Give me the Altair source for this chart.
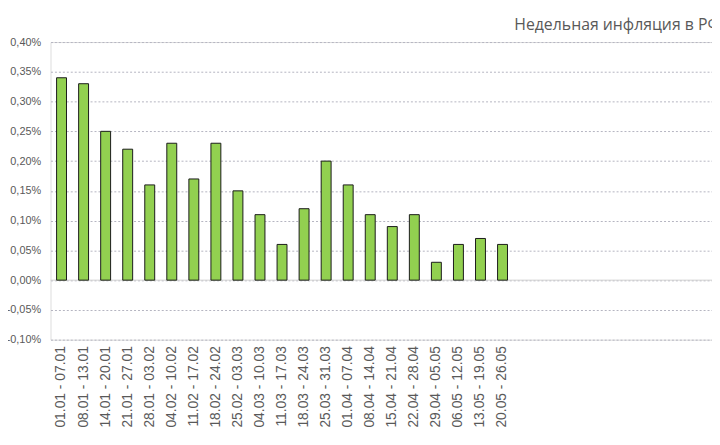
import altair as alt
import pandas as pd

weeks = ["01.01 - 07.01", "08.01 - 13.01", "14.01 - 20.01", "21.01 - 27.01",
         "28.01 - 03.02", "04.02 - 10.02", "11.02 - 17.02", "18.02 - 24.02",
         "25.02 - 03.03", "04.03 - 10.03", "11.03 - 17.03", "18.03 - 24.03",
         "25.03 - 31.03", "01.04 - 07.04", "08.04 - 14.04", "15.04 - 21.04",
         "22.04 - 28.04", "29.04 - 05.05", "06.05 - 12.05", "13.05 - 19.05",
         "20.05 - 26.05"]
inflation = [0.34, 0.33, 0.25, 0.22, 0.16, 0.23, 0.17, 0.23, 0.15, 0.11, 0.06,
             0.12, 0.20, 0.16, 0.11, 0.09, 0.11, 0.03, 0.06, 0.07, 0.06]
y_ticks = [-0.10, -0.05, 0.0, 0.05, 0.10, 0.15, 0.20, 0.25, 0.30, 0.35, 0.40]
title_text = "Недельная инфляция в РФ"

# empty category slots that continue the axis to the right (as in the source)
empty_slots = [f"_{i}" for i in range(9)]

df = pd.DataFrame({"week": weeks, "value": inflation})

x_scale = alt.Scale(domain=weeks + empty_slots, paddingInner=0.55, paddingOuter=0.275)
y_scale = alt.Scale(domain=[-0.10, 0.40], nice=False, zero=False)

y_axis = alt.Axis(title=None, values=y_ticks, ticks=False, domain=False,
                  labelPadding=10, labelFont="Liberation Sans",
                  labelFontSize=11, labelColor="#595959",
                  labelOverlap=False, tickCount=11,
                  labelExpr="replace(replace(format(datum.value, '.2f'), '.', ','), '\u2212', '-') + '%'",
                  grid=True, gridColor="#b4b4c0", gridDash=[2, 2],
                  gridWidth=1)

zero = alt.Chart(pd.DataFrame({"y": [0.0]})).mark_rule(
    color="#d0d0d0", strokeWidth=1
).encode(y=alt.Y("y:Q", scale=y_scale, axis=y_axis))

bars = alt.Chart(df).mark_bar(
    fill="#92D050", stroke="#1a1a1a", strokeWidth=1
).encode(
    x=alt.X("week:N", scale=x_scale, sort=None,
            axis=alt.Axis(title=None, labelAngle=-90, labelPadding=6,
                          labelExpr="indexof(datum.value, '_') == 0 ? '' : datum.value",
                          ticks=False, domain=False, grid=False,
                          labelFont="Liberation Sans", labelFontSize=14,
                          labelOverlap=False, labelLimit=200,
                          labelColor="#595959")),
    y=alt.Y("value:Q", scale=y_scale, axis=y_axis),
)

title = alt.Chart(pd.DataFrame({"t": [title_text]})).mark_text(
    align="left", baseline="alphabetic", fontSize=16, font="Open Sans",
    color="#595959"
).encode(x=alt.value(469), y=alt.value(-12), text="t:N")

border = alt.Chart(pd.DataFrame({"a": [0]})).mark_rule(
    color="#d9d9d9", strokeWidth=1
).encode(x=alt.value(-50), y=alt.value(-40), y2=alt.value(404))

chart = alt.layer(zero, bars, title, border).properties(
    width=669, height=301,
    autosize=alt.AutoSizeParams(type="none"),
    padding={"left": 43, "top": 32, "right": 0, "bottom": 96},
).configure_view(stroke=None).configure(background="white")

chart.save("out.html", embed_options={"renderer": "svg", "actions": False})
